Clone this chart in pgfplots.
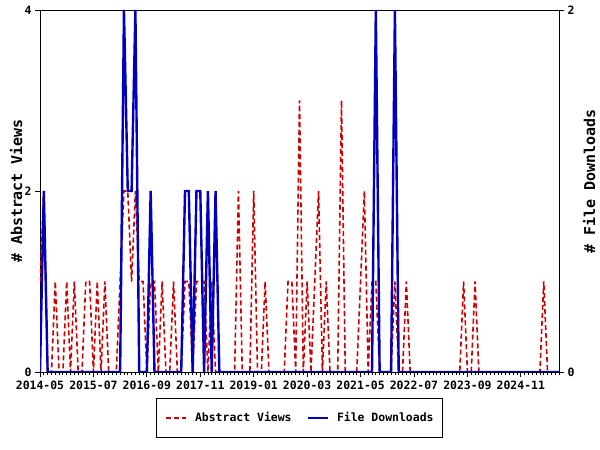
\documentclass[border=0pt]{standalone}
\usepackage{fontspec}
\setmainfont{DejaVu Sans Mono}
\usepackage{pgfplots}
\usepackage{pgfplotstable}
\pgfplotsset{compat=1.18}
\definecolor{rd}{RGB}{204,0,0}
\definecolor{bl}{RGB}{0,0,190}
\newcommand{\tf}{\bfseries\fontsize{11.5}{13}\selectfont}
\newcommand{\lf}{\bfseries\fontsize{15}{17}\selectfont}

\pgfplotstableread{
m v d
0 1 0
1 2 1
2 0 0
3 0 0
4 1 0
5 0 0
6 0 0
7 1 0
8 0 0
9 1 0
10 0 0
11 0 0
12 1 0
13 1 0
14 0 0
15 1 0
16 0 0
17 1 0
18 0 0
19 0 0
20 0 0
21 1 0
22 2 2
23 2 1
24 1 1
25 2 2
26 1 0
27 1 0
28 0 0
29 1 1
30 1 0
31 0 0
32 1 0
33 0 0
34 0 0
35 1 0
36 0 0
37 0 0
38 1 1
39 1 1
40 0 0
41 1 1
42 1 1
43 1 0
44 0 1
45 1 0
46 0 1
47 0 0
48 0 0
49 0 0
50 0 0
51 0 0
52 2 0
53 0 0
54 0 0
55 0 0
56 2 0
57 0 0
58 0 0
59 1 0
60 0 0
61 0 0
62 0 0
63 0 0
64 0 0
65 1 0
66 1 0
67 0 0
68 3 0
69 0 0
70 1 0
71 0 0
72 1 0
73 2 0
74 0 0
75 1 0
76 0 0
77 0 0
78 0 0
79 3 0
80 0 0
81 0 0
82 0 0
83 0 0
84 1 0
85 2 0
86 0 0
87 1 0
88 1 2
89 0 0
90 0 0
91 0 0
92 0 0
93 1 2
94 0 0
95 0 0
96 1 0
97 0 0
98 0 0
99 0 0
100 0 0
101 0 0
102 0 0
103 0 0
104 0 0
105 0 0
106 0 0
107 0 0
108 0 0
109 0 0
110 0 0
111 1 0
112 0 0
113 0 0
114 1 0
115 0 0
116 0 0
117 0 0
118 0 0
119 0 0
120 0 0
121 0 0
122 0 0
123 0 0
124 0 0
125 0 0
126 0 0
127 0 0
128 0 0
129 0 0
130 0 0
131 0 0
132 1 0
133 0 0
134 0 0
135 0 0
136 0 0
}\data

\begin{document}
\begin{tikzpicture}
\useasboundingbox (0,0) rectangle (600bp,450bp);
\pgfplotsset{
  base/.style={
    at={(40bp,78bp)}, anchor=south west, scale only axis,
    width=519bp, height=362bp,
    xmin=0, xmax=136,
    tick label style={font=\tf},
    label style={font=\lf},
    /pgf/number format/assume math mode=true,
    axis line style={line width=0.8bp},
    every tick/.style={black, line width=0.8bp},
    major tick length=5bp, minor tick length=3bp,
    tick align=outside,
  },
  redline/.style={rd, line width=1.6bp, dash pattern=on 5bp off 3bp},
  blueline/.style={bl, line width=2.4bp},
}
\begin{axis}[base,
  ymin=0, ymax=4, ytick={0,2,4},
  xtick={0,14,28,42,56,70,84,98,112,126},
  xticklabels={2014-05,2015-07,2016-09,2017-11,2019-01,2020-03,2021-05,2022-07,2023-09,2024-11},
  minor xtick={0,1,...,136},
  xtick pos=left, ytick pos=left,
  ylabel={\# Abstract Views},
  ylabel style={at={(axis description cs:-0.046,0.5)}, anchor=center},
]
\addplot[redline, sharp plot] table[x=m, y=v]{\data};
\end{axis}
\begin{axis}[base,
  axis x line=none, axis y line*=right,
  ymin=0, ymax=2, ytick={0,2},
  ytick pos=right,
  ylabel={\# File Downloads},
  ylabel style={at={(axis description cs:1.058,0.525)}, anchor=center},
  legend style={at={(axis description cs:0.5,-0.0718)}, anchor=north,
    draw=black, line width=0.8bp, font=\tf, legend columns=2,
    inner xsep=9bp, inner ysep=14bp,
    nodes={inner sep=0pt},
    /tikz/every odd column/.append style={column sep=8bp},
    /tikz/every even column/.append style={column sep=15bp}},
  legend cell align=left,
  legend image code/.code={\draw[#1] (0bp,0bp) -- (20bp,0bp);},
]
\addlegendimage{redline}
\addlegendentry{Abstract Views}
\addplot[blueline, sharp plot] table[x=m, y=d]{\data};
\addlegendentry{File Downloads}
\end{axis}
\end{tikzpicture}
\end{document}
